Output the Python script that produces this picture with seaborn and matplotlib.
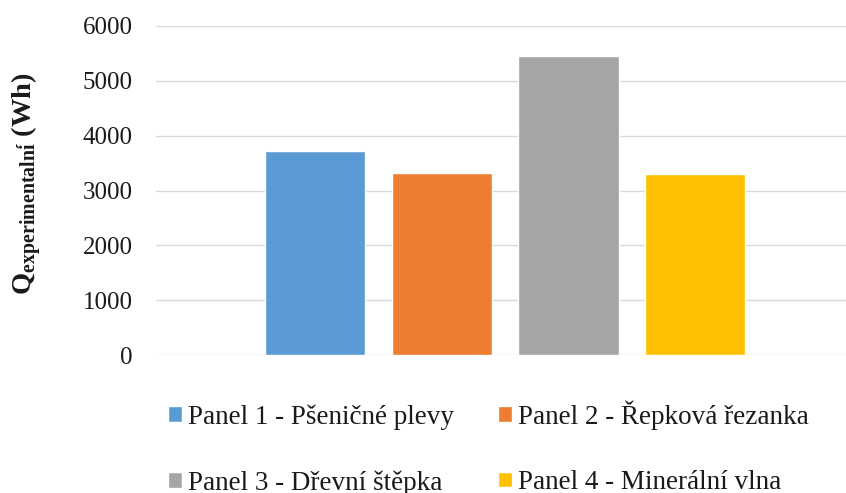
import seaborn as sns
import matplotlib.pyplot as plt
import pandas as pd

# Datos del gráfico
panely = [
    "Panel 1 - Pšeničné plevy",
    "Panel 2 - Řepková řezanka",
    "Panel 3 - Dřevní štěpka",
    "Panel 4 - Minerální vlna",
]
q_exp = [3720, 3315, 5450, 3300]
barvy = ["#5B9BD5", "#ED7D31", "#A5A5A5", "#FFC000"]
y_ticks = [0, 1000, 2000, 3000, 4000, 5000, 6000]

df = pd.DataFrame({"Panel": panely, "Q": q_exp})

sns.set_style("white")
plt.rcParams["font.family"] = ["Liberation Serif", "DejaVu Serif"]
plt.rcParams["mathtext.fontset"] = "custom"
plt.rcParams["mathtext.rm"] = "Liberation Serif"
plt.rcParams["mathtext.bf"] = "Liberation Serif:bold"

fig = plt.figure(figsize=(8.46, 4.93), dpi=100)
ax = fig.add_axes([156 / 846, 138 / 493, 690 / 846, 329 / 493])

sns.barplot(data=df, x="Panel", y="Q", hue="Panel", palette=barvy,
            width=0.79, saturation=1, legend=False, ax=ax)

ax.set_xlim(-1.255, 4.19)
ax.set_ylim(0, 6000)
ax.set_yticks(y_ticks)
ax.set_xticks([])
ax.set_xlabel("")
ax.grid(axis="y", color="#D9D9D9", linewidth=1)
ax.set_axisbelow(True)
for s in ax.spines.values():
    s.set_visible(False)
ax.tick_params(axis="y", length=0, pad=17, labelsize=18, labelcolor="#1a1a1a")

ax.set_ylabel(r"$\mathbf{Q}_{\mathbf{experimentaln\'{i}}}$ (Wh)",
              fontsize=20.5, fontweight="bold", color="#1a1a1a")
ax.yaxis.set_label_coords(-0.162, 0.52)

# Legenda pod grafem, po řádcích
patches = ax.patches
poradi = [0, 2, 1, 3]
fig.legend([patches[i] for i in poradi], [panely[i] for i in poradi],
           loc="upper left", bbox_to_anchor=(168 / 846, 1 - 400 / 493),
           ncol=2, frameon=False, fontsize=19.5, handlelength=0.52,
           handleheight=0.52, handletextpad=0.2, columnspacing=1.65,
           labelspacing=1.5, borderpad=0, borderaxespad=0,
           labelcolor="#1a1a1a")

plt.savefig("out.png", dpi=100)
